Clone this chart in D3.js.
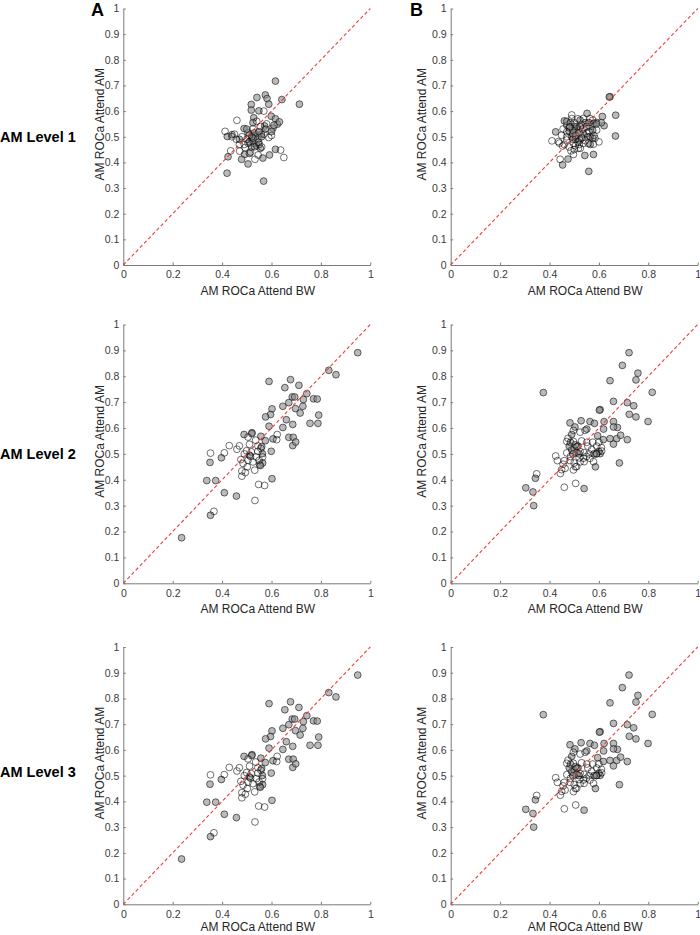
<!DOCTYPE html>
<html><head><meta charset="utf-8">
<script src="https://cdn.jsdelivr.net/npm/d3@7"></script>
<style>body{margin:0;background:#fff}svg{display:block}</style>
</head><body>
<script>
// ---------- data ----------
const rowLabels = ["AM Level 1", "AM Level 2", "AM Level 3"];
const colLetters = ["A", "B"];
const xTicks = [0, 0.2, 0.4, 0.6, 0.8, 1];
const yTicks = [0, 0.1, 0.2, 0.3, 0.4, 0.5, 0.6, 0.7, 0.8, 0.9, 1];
const xLabel = "AM ROCa Attend BW";
const yLabel = "AM ROCa Attend AM";

const a1Filled = [[0.616,0.717],[0.713,0.627],[0.642,0.645],[0.541,0.653],[0.575,0.663],[0.582,0.649],[0.518,0.626],[0.589,0.627],[0.549,0.601],[0.518,0.604],[0.599,0.580],[0.528,0.574],[0.616,0.570],[0.624,0.549],[0.606,0.534],[0.572,0.542],[0.575,0.530],[0.489,0.532],[0.505,0.516],[0.421,0.501],[0.440,0.508],[0.541,0.506],[0.559,0.510],[0.518,0.487],[0.528,0.474],[0.491,0.431],[0.479,0.412],[0.505,0.394],[0.424,0.422],[0.420,0.358],[0.568,0.327],[0.565,0.417],[0.592,0.429],[0.616,0.451],[0.511,0.435],[0.632,0.558],[0.535,0.500],[0.545,0.490],[0.530,0.515],[0.550,0.520],[0.520,0.460],[0.540,0.465],[0.600,0.520],[0.610,0.545],[0.500,0.530],[0.555,0.455],[0.470,0.490],[0.525,0.555],[0.560,0.500],[0.510,0.480],[0.525,0.495],[0.548,0.478]];
const a1Open = [[0.460,0.564],[0.412,0.521],[0.435,0.445],[0.471,0.444],[0.637,0.448],[0.650,0.419],[0.533,0.412],[0.546,0.429],[0.569,0.600],[0.589,0.497],[0.458,0.490],[0.493,0.458],[0.532,0.461],[0.450,0.510],[0.480,0.500],[0.500,0.490],[0.520,0.500],[0.550,0.470],[0.570,0.510],[0.540,0.560],[0.505,0.475],[0.560,0.460],[0.580,0.550],[0.490,0.470],[0.600,0.505],[0.515,0.440],[0.470,0.470],[0.525,0.530],[0.440,0.500],[0.555,0.540],[0.510,0.505]];

const b1Filled = [[0.645,0.656],[0.642,0.655],[0.668,0.584],[0.667,0.503],[0.614,0.579],[0.621,0.543],[0.552,0.591],[0.591,0.556],[0.425,0.519],[0.453,0.390],[0.475,0.413],[0.543,0.427],[0.578,0.431],[0.559,0.365],[0.460,0.562],[0.470,0.545],[0.524,0.565],[0.503,0.526],[0.490,0.500],[0.510,0.500],[0.537,0.513],[0.564,0.539],[0.578,0.552],[0.524,0.487],[0.480,0.520],[0.495,0.510],[0.505,0.490],[0.515,0.530],[0.470,0.560],[0.485,0.555],[0.545,0.555],[0.560,0.555],[0.575,0.525],[0.500,0.540],[0.530,0.545],[0.495,0.525],[0.505,0.505],[0.520,0.515],[0.480,0.535],[0.555,0.500],[0.575,0.495],[0.565,0.470],[0.610,0.555],[0.590,0.550]];
const b1Open = [[0.410,0.484],[0.443,0.412],[0.436,0.481],[0.453,0.464],[0.487,0.445],[0.497,0.431],[0.517,0.455],[0.557,0.474],[0.578,0.471],[0.584,0.494],[0.564,0.571],[0.537,0.571],[0.490,0.571],[0.470,0.519],[0.551,0.513],[0.591,0.526],[0.524,0.539],[0.497,0.474],[0.470,0.487],[0.537,0.474],[0.564,0.500],[0.510,0.539],[0.483,0.539],[0.449,0.506],[0.550,0.540],[0.460,0.470],[0.480,0.460],[0.505,0.465],[0.515,0.480],[0.530,0.495],[0.545,0.485],[0.470,0.500],[0.495,0.490],[0.520,0.470],[0.500,0.555],[0.535,0.530],[0.560,0.520],[0.580,0.505],[0.575,0.565],[0.455,0.530],[0.490,0.585],[0.515,0.570],[0.600,0.480],[0.440,0.475],[0.500,0.450],[0.525,0.455]];

const a2Filled = [[0.949,0.891],[0.832,0.823],[0.861,0.806],[0.590,0.780],[0.677,0.787],[0.654,0.756],[0.711,0.765],[0.743,0.733],[0.684,0.720],[0.694,0.720],[0.770,0.713],[0.785,0.712],[0.670,0.698],[0.729,0.710],[0.646,0.684],[0.697,0.675],[0.727,0.684],[0.716,0.658],[0.602,0.674],[0.596,0.652],[0.576,0.643],[0.791,0.650],[0.756,0.618],[0.788,0.618],[0.660,0.632],[0.686,0.614],[0.646,0.602],[0.590,0.607],[0.606,0.558],[0.670,0.564],[0.688,0.564],[0.686,0.532],[0.698,0.546],[0.575,0.551],[0.557,0.568],[0.521,0.582],[0.489,0.575],[0.599,0.510],[0.602,0.404],[0.458,0.337],[0.409,0.350],[0.397,0.485],[0.351,0.467],[0.338,0.397],[0.374,0.397],[0.353,0.263],[0.236,0.176],[0.564,0.465],[0.552,0.458],[0.563,0.501],[0.511,0.495],[0.520,0.578],[0.560,0.528],[0.555,0.455]];
const a2Open = [[0.353,0.503],[0.409,0.504],[0.429,0.532],[0.470,0.531],[0.460,0.518],[0.476,0.478],[0.480,0.434],[0.480,0.414],[0.494,0.428],[0.502,0.450],[0.499,0.512],[0.511,0.537],[0.536,0.553],[0.545,0.531],[0.564,0.488],[0.548,0.382],[0.572,0.378],[0.533,0.320],[0.367,0.278],[0.623,0.575],[0.621,0.555],[0.525,0.469],[0.538,0.488],[0.550,0.475],[0.518,0.508],[0.532,0.437],[0.557,0.521],[0.485,0.463],[0.490,0.500],[0.505,0.565],[0.545,0.510],[0.515,0.490],[0.505,0.475]];

const b2Filled = [[0.722,0.891],[0.695,0.842],[0.758,0.812],[0.750,0.786],[0.645,0.783],[0.375,0.737],[0.816,0.738],[0.659,0.703],[0.715,0.698],[0.741,0.686],[0.605,0.671],[0.602,0.669],[0.723,0.653],[0.750,0.643],[0.799,0.625],[0.483,0.620],[0.528,0.628],[0.564,0.625],[0.582,0.618],[0.621,0.625],[0.659,0.625],[0.503,0.604],[0.619,0.596],[0.675,0.602],[0.659,0.604],[0.551,0.596],[0.645,0.559],[0.672,0.559],[0.715,0.555],[0.659,0.538],[0.688,0.572],[0.618,0.555],[0.683,0.465],[0.540,0.366],[0.586,0.450],[0.304,0.369],[0.333,0.353],[0.343,0.406],[0.336,0.300],[0.605,0.501],[0.480,0.530],[0.490,0.515],[0.500,0.520],[0.485,0.545],[0.510,0.505],[0.495,0.500],[0.515,0.530],[0.600,0.510],[0.590,0.500],[0.580,0.500],[0.595,0.570],[0.490,0.575],[0.520,0.500],[0.505,0.535]];
const b2Open = [[0.348,0.423],[0.425,0.492],[0.432,0.474],[0.444,0.424],[0.460,0.371],[0.506,0.386],[0.460,0.474],[0.463,0.444],[0.470,0.548],[0.497,0.548],[0.510,0.528],[0.524,0.509],[0.537,0.483],[0.510,0.451],[0.497,0.438],[0.551,0.545],[0.571,0.517],[0.578,0.470],[0.591,0.530],[0.611,0.511],[0.564,0.483],[0.544,0.591],[0.524,0.584],[0.497,0.591],[0.470,0.504],[0.483,0.474],[0.524,0.469],[0.591,0.501],[0.449,0.439],[0.475,0.560],[0.500,0.465],[0.540,0.505],[0.555,0.530],[0.530,0.550],[0.560,0.500],[0.610,0.525],[0.520,0.485],[0.485,0.490],[0.505,0.450],[0.550,0.490],[0.600,0.545],[0.575,0.545],[0.455,0.460],[0.540,0.470]];

// panels: rows 2 and 3 show the same data
const panelData = [
  [{filled:a1Filled, open:a1Open}, {filled:b1Filled, open:b1Open}],
  [{filled:a2Filled, open:a2Open}, {filled:b2Filled, open:b2Open}],
  [{filled:a2Filled, open:a2Open}, {filled:b2Filled, open:b2Open}]
];

// ---------- layout ----------
const W = 700, H = 935;
const colLeft = [123.3, 450.7];
const plotW = 247;
const rowTop = [8.5, 324.5, 647];
const rowBottom = [265, 583.3, 904.3];
const xLabelDy = [29.5, 29.5, 26.5];
const yLabelX = [103.5, 426];
const rowLabelY = [142, 459, 777];
const FONT = "Arial, 'Liberation Sans', Helvetica, sans-serif";

const svg = d3.select("body").append("svg").attr("width", W).attr("height", H)
  .style("font-family", FONT);

panelData.forEach((row, r) => {
  svg.append("text").attr("x", 0).attr("y", rowLabelY[r])
    .attr("font-size", 14.5).attr("font-weight", "bold").attr("fill", "#000")
    .text(rowLabels[r]);

  row.forEach((pd, c) => {
    const x = d3.scaleLinear().domain([0, 1]).range([colLeft[c], colLeft[c] + plotW]);
    const y = d3.scaleLinear().domain([0, 1]).range([rowBottom[r], rowTop[r]]);
    const g = svg.append("g");

    const xa = g.append("g").attr("transform", `translate(0,${rowBottom[r]})`)
      .call(d3.axisBottom(x).tickValues(xTicks).tickFormat(d3.format("~g"))
        .tickSizeInner(-2.5).tickSizeOuter(0).tickPadding(6));
    const ya = g.append("g").attr("transform", `translate(${colLeft[c]},0)`)
      .call(d3.axisLeft(y).tickValues(yTicks).tickFormat(d3.format("~g"))
        .tickSizeInner(-2.5).tickSizeOuter(0).tickPadding(4));
    [xa, ya].forEach(a => {
      a.select(".domain").attr("stroke", "#7a7a7a").attr("stroke-width", 1);
      a.selectAll(".tick line").attr("stroke", "#7a7a7a").attr("stroke-width", 1);
      a.selectAll(".tick text").attr("fill", "#3a3a3a").attr("font-size", 10.5)
        .style("font-family", FONT);
    });

    // points
    g.append("g").selectAll("circle").data(pd.filled).join("circle")
      .attr("cx", d => x(d[0])).attr("cy", d => y(d[1])).attr("r", 3.4)
      .attr("fill", "#8c8c8c").attr("fill-opacity", 0.6)
      .attr("stroke", "#000").attr("stroke-opacity", 0.7).attr("stroke-width", 0.8);
    g.append("g").selectAll("circle").data(pd.open).join("circle")
      .attr("cx", d => x(d[0])).attr("cy", d => y(d[1])).attr("r", 3.4)
      .attr("fill", "none")
      .attr("stroke", "#000").attr("stroke-opacity", 0.7).attr("stroke-width", 0.8);

    // identity line (on top)
    g.append("path")
      .attr("d", d3.line()([[x(0), y(0)], [x(1), y(1)]]))
      .attr("fill", "none")
      .attr("stroke", "#f03c3c").attr("stroke-width", 1.1)
      .attr("stroke-dasharray", "3.5,2.5");

    g.append("text")
      .attr("x", (colLeft[c] + plotW / 2) + 11).attr("y", rowBottom[r] + xLabelDy[r])
      .attr("text-anchor", "middle").attr("font-size", 12).attr("fill", "#262626")
      .text(xLabel);
    const ly = (rowTop[r] + rowBottom[r]) / 2 - 12.5;
    g.append("text")
      .attr("transform", `translate(${yLabelX[c]},${ly}) rotate(-90)`)
      .attr("text-anchor", "middle").attr("font-size", 12).attr("fill", "#262626")
      .text(yLabel);
  });
});

svg.append("text").attr("x", 91).attr("y", 16).attr("font-size", 18)
  .attr("font-weight", "bold").text(colLetters[0]);
svg.append("text").attr("x", 410).attr("y", 16).attr("font-size", 18)
  .attr("font-weight", "bold").text(colLetters[1]);
</script>
</body></html>
